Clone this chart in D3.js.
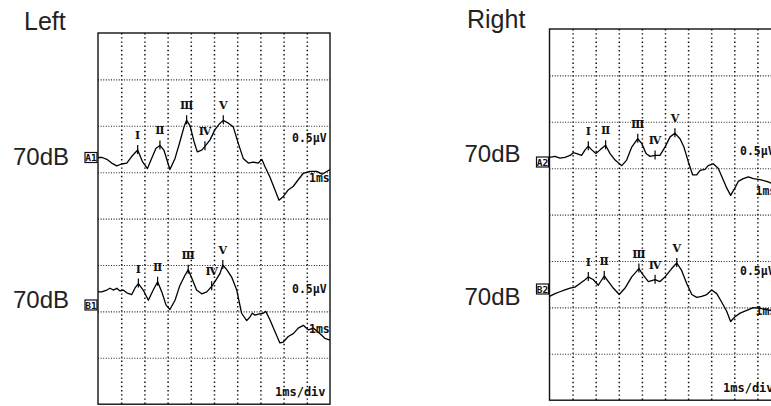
<!DOCTYPE html>
<html>
<head>
<meta charset="utf-8">
<script src="https://cdn.jsdelivr.net/npm/d3@7"></script>
<style>
body{margin:0;background:#fff;}
</style>
</head>
<body>
<div class="visualization"></div>
<script>
var width = 771, height = 406;
var uvPerDiv = 0.5;     // vertical calibration
var msDivs = 10, ampDivs = 8;

// traces: [time ms, amplitude µV from channel baseline]
var a1Trace = [[0,0],[0.18,0],[0.38,-0.02],[0.59,-0.06],[0.81,-0.09],[1.02,-0.07],[1.24,-0.06],[1.45,0.01],[1.71,0.08],[1.93,-0.05],
  [2.13,-0.12],[2.31,-0.01],[2.50,0.10],[2.67,0.13],[2.84,0.08],[3.10,-0.13],[3.32,-0.01],[3.53,0.17],[3.72,0.34],[3.82,0.40],
  [3.97,0.34],[4.14,0.17],[4.28,0.06],[4.47,0.08],[4.61,0.12],[4.83,0.19],[5.04,0.30],[5.26,0.37],[5.40,0.40],[5.62,0.37],
  [5.83,0.33],[6.05,0.15],[6.26,-0.01],[6.48,-0.06],[6.69,-0.05],[6.91,-0.06],[7.06,-0.02],[7.20,-0.10],[7.41,-0.21],[7.63,-0.35],
  [7.80,-0.46],[7.99,-0.42],[8.20,-0.35],[8.42,-0.31],[8.63,-0.24],[8.85,-0.17],[9.14,-0.15],[9.43,-0.15],[9.66,-0.18],[10,-0.13]];
var b1Trace = [[0,0.13],[0.16,0.13],[0.38,0.15],[0.52,0.17],[0.66,0.15],[0.81,0.17],[0.95,0.14],[1.09,0.15],[1.24,0.12],[1.45,0.10],
  [1.59,0.17],[1.74,0.22],[1.95,0.15],[2.17,0.04],[2.38,0.15],[2.57,0.24],[2.75,0.13],[2.93,-0.01],[3.10,-0.06],[3.32,0.04],
  [3.53,0.20],[3.75,0.31],[3.89,0.37],[4.04,0.28],[4.25,0.15],[4.47,0.11],[4.69,0.13],[4.90,0.19],[5.04,0.24],[5.26,0.33],
  [5.38,0.42],[5.55,0.37],[5.76,0.29],[5.98,0.15],[6.19,-0.10],[6.41,-0.18],[6.55,-0.14],[6.65,-0.10],[6.77,-0.12],[6.91,-0.11],
  [7.12,-0.10],[7.23,-0.08],[7.41,-0.17],[7.63,-0.30],[7.84,-0.42],[7.99,-0.41],[8.20,-0.35],[8.42,-0.32],[8.63,-0.26],[8.85,-0.23],
  [9.07,-0.28],[9.28,-0.26],[9.57,-0.32],[9.78,-0.37],[10,-0.39]];
var a2Trace = [[0,0.04],[0.24,0.05],[0.45,0.03],[0.67,0.04],[0.89,0.06],[1.03,0.09],[1.18,0.08],[1.39,0.06],[1.54,0.12],[1.68,0.16],
  [1.83,0.12],[2.01,0.08],[2.19,0.12],[2.43,0.17],[2.62,0.08],[2.84,0.01],[3.13,-0.05],[3.34,0.01],[3.56,0.15],[3.82,0.24],
  [3.99,0.19],[4.18,0.08],[4.35,0.05],[4.57,0.06],[4.78,0.06],[5.00,0.15],[5.22,0.26],[5.43,0.30],[5.65,0.24],[5.82,0.15],
  [6.01,-0.01],[6.20,-0.15],[6.37,-0.15],[6.52,-0.10],[6.73,-0.09],[6.87,-0.05],[7.09,-0.03],[7.31,-0.08],[7.50,-0.19],[7.67,-0.29],
  [7.84,-0.37],[8.03,-0.29],[8.17,-0.22],[8.39,-0.19],[8.61,-0.17],[8.82,-0.19],[9.11,-0.20],[9.40,-0.22],[9.63,-0.24],[10,-0.26]];
var b2Trace = [[0,-0.08],[0.24,-0.05],[0.45,-0.03],[0.67,-0.01],[0.89,0.01],[1.10,0.02],[1.32,0.06],[1.54,0.10],[1.68,0.13],[1.90,0.10],
  [2.11,0.04],[2.37,0.14],[2.55,0.08],[2.76,0.01],[3.02,-0.06],[3.27,0.01],[3.56,0.13],[3.87,0.22],[4.06,0.15],[4.28,0.08],
  [4.57,0.10],[4.78,0.08],[5.00,0.13],[5.29,0.22],[5.51,0.28],[5.72,0.20],[5.94,0.06],[6.16,-0.06],[6.37,-0.09],[6.59,-0.08],
  [6.81,-0.06],[7.02,-0.01],[7.24,-0.05],[7.45,-0.14],[7.67,-0.24],[7.84,-0.35],[8.03,-0.30],[8.25,-0.26],[8.54,-0.23],[8.82,-0.20],
  [9.11,-0.21],[9.55,-0.23],[10,-0.24]];

// wave I..V latencies (ms)
var peakNames = ["\u2160","\u2161","\u2162","\u2163","\u2164"];
var a1Peaks = [1.71, 2.67, 3.82, 4.61, 5.40];
var b1Peaks = [1.74, 2.57, 3.89, 4.90, 5.38];
var a2Peaks = [1.68, 2.43, 3.82, 4.57, 5.43];
var b2Peaks = [1.68, 2.37, 3.87, 4.57, 5.51];

var sideNames = ["Left", "Right"];
var levelText = "70dB";
var calText = "0.5\u03bcV", msText = "1ms", sweepText = "1ms/div";

// layout (pixels), base = channel baseline in divisions from top
var panels = [
  {title: sideNames[0], left: 98, top: 33, w: 232, h: 371.2, tx: 24, ty: 30, calX: 194, msX: 211, sweepX: 177,
   channels: [{name: "A1", data: a1Trace, peaks: a1Peaks, base: 2.683, ly: 165, tagY: 157.5, calY: 142, msY: 182},
              {name: "B1", data: b1Trace, peaks: b1Peaks, base: 5.84, ly: 308, tagY: 305, calY: 293, msY: 333}]},
  {title: sideNames[1], left: 549.5, top: 29, w: 231, h: 371.2, tx: 467, ty: 28, calX: 190.5, msX: 206, sweepX: 173.5,
   channels: [{name: "A2", data: a2Trace, peaks: a2Peaks, base: 2.845, ly: 162, tagY: 162, calY: 155, msY: 195},
              {name: "B2", data: b2Trace, peaks: b2Peaks, base: 5.603, ly: 305, tagY: 289, calY: 275, msY: 315}]}
];

var svg = d3.select(".visualization").append("svg")
    .attr("width", width).attr("height", height)
    .style("display", "block");

panels.forEach(function(p){
    var g = svg.append("g");
    var x = d3.scaleLinear().domain([0, msDivs]).range([p.left, p.left + p.w]);
    var yDiv = d3.scaleLinear().domain([0, ampDivs]).range([p.top, p.top + p.h]);

    // side title
    g.append("text").attr("x", p.tx).attr("y", p.ty)
        .attr("font-family", "Liberation Sans, Arial, sans-serif")
        .attr("font-size", 25).attr("fill", "#222").text(p.title);

    // dotted grid from axes
    var gx = g.append("g").attr("transform", "translate(0," + p.top + ")")
        .call(d3.axisBottom(x).tickValues(d3.range(1, msDivs)).tickSize(p.h).tickFormat(""));
    gx.select(".domain").remove();
    gx.selectAll(".tick line").attr("stroke", "#111").attr("stroke-width", 1.5)
        .attr("stroke-dasharray", "1.4,2.8");
    var gy = g.append("g").attr("transform", "translate(" + p.left + ",0)")
        .call(d3.axisRight(yDiv).tickValues(d3.range(1, ampDivs)).tickSize(p.w).tickFormat(""));
    gy.select(".domain").remove();
    gy.selectAll(".tick line").attr("stroke", "#222").attr("stroke-width", 1.1)
        .attr("stroke-dasharray", "1,1.6");

    // frame
    g.append("rect").attr("x", p.left).attr("y", p.top)
        .attr("width", p.w).attr("height", p.h)
        .attr("fill", "none").attr("stroke", "#111").attr("stroke-width", 1.4);

    p.channels.forEach(function(ch){
        var y0 = yDiv(ch.base);
        var y = d3.scaleLinear().domain([0, uvPerDiv]).range([y0, yDiv(ch.base - 1)]);
        var line = d3.line().x(function(d){return x(d[0]);}).y(function(d){return y(d[1]);});

        g.append("path").datum(ch.data)
            .attr("d", line).attr("fill", "none")
            .attr("stroke", "#000").attr("stroke-width", 1.3).attr("stroke-linejoin", "round");

        // level label and channel tag
        g.append("text").attr("x", p.left - 85).attr("y", ch.ly)
            .attr("font-family", "Liberation Sans, Arial, sans-serif")
            .attr("font-size", 24).attr("fill", "#222").text(levelText);
        g.append("rect").attr("x", p.left - 13).attr("y", ch.tagY - 5)
            .attr("width", 12).attr("height", 10)
            .attr("fill", "#fff").attr("stroke", "#111").attr("stroke-width", 1.2);
        g.append("text").attr("x", p.left - 7).attr("y", ch.tagY + 3.5)
            .attr("text-anchor", "middle")
            .attr("font-family", "DejaVu Sans Mono, monospace").attr("font-weight", "bold")
            .attr("font-size", 9.5).attr("fill", "#111").text(ch.name);

        // peak markers
        ch.peaks.forEach(function(t, i){
            var pt = d3.least(ch.data, function(d){return Math.abs(d[0] - t);});
            var px = x(pt[0]), py = y(pt[1]);
            g.append("line").attr("x1", px).attr("x2", px)
                .attr("y1", py - 5).attr("y2", py + 4)
                .attr("stroke", "#000").attr("stroke-width", 1.2);
            g.append("text").attr("x", px).attr("y", py - 11)
                .attr("text-anchor", "middle")
                .attr("font-family", "DejaVu Serif, serif").attr("font-weight", "bold")
                .attr("font-size", 11).attr("fill", "#111").text(peakNames[i]);
        });

        // calibration marks
        g.append("text").attr("x", p.left + p.calX).attr("y", ch.calY)
            .attr("font-family", "DejaVu Sans Mono, monospace").attr("font-weight", "bold")
            .attr("font-size", 11.5).attr("fill", "#111").text(calText);
        g.append("text").attr("x", p.left + p.msX).attr("y", ch.msY)
            .attr("font-family", "DejaVu Sans Mono, monospace").attr("font-weight", "bold")
            .attr("font-size", 11.5).attr("fill", "#111").text(msText);
    });

    g.append("text").attr("x", p.left + p.sweepX).attr("y", p.top + p.h - 8)
        .attr("font-family", "DejaVu Sans Mono, monospace").attr("font-weight", "bold")
        .attr("font-size", 12).attr("fill", "#111").text(sweepText);
});
</script>
</body>
</html>
